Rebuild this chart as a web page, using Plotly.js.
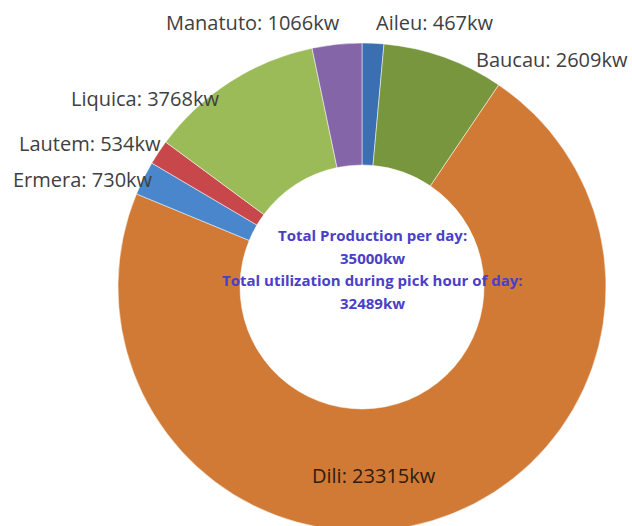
<!DOCTYPE html>
<html>
<head>
<meta charset="utf-8">
<script src="https://cdn.plot.ly/plotly-3.0.1.min.js"></script>
<style>
  html, body { margin: 0; padding: 0; overflow: hidden; background: #fff; }
  #chart { width: 632px; height: 560px; }
</style>
</head>
<body>
<div id="chart"></div>
<script>
const districts = ["Aileu", "Baucau", "Dili", "Ermera", "Lautem", "Liquica", "Manatuto"];
const loadKw = [467, 2609, 23315, 730, 534, 3768, 1066];
const sliceColors = ["#3b6fb2", "#77963d", "#d07a36", "#4a86cc", "#c8474a", "#9bbb59", "#8465a8"];
const centerLines = [
  "Total Production per day:",
  "35000kw",
  "Total utilization during pick hour of day:",
  "32489kw",
];

// label centres, in page pixels
const labelPx = [
  [435, 23],
  [552, 60],
  [374, 475],
  [83, 180],
  [90, 143],
  [145, 98],
  [253, 23],
];
const centerLinePx = [
  [372, 235],
  [372, 258],
  [372, 280],
  [372, 303],
];

const W = 632;
const H = 560;
const toPaper = ([x, y]) => ({ x: x / W, y: (H - y) / H });

const donut = {
  type: "pie",
  labels: districts,
  values: loadKw,
  sort: false,
  direction: "clockwise",
  rotation: 0,
  hole: 0.5,
  textinfo: "none",
  marker: { colors: sliceColors, line: { color: "#ffffff", width: 0.5 } },
  domain: { x: [118 / W, 606 / W], y: [(H - 531) / H, (H - 43) / H] },
  showlegend: false,
  hoverinfo: "label+value",
};

const sliceLabels = districts.map((name, i) => {
  const p = toPaper(labelPx[i]);
  const inside = name === "Dili";
  return {
    xref: "paper",
    yref: "paper",
    x: p.x,
    y: p.y,
    xanchor: "center",
    yanchor: "middle",
    showarrow: false,
    text: `${name}: ${loadKw[i]}kw`,
    font: {
      family: "'Open Sans', Lato, sans-serif",
      size: 20,
      color: inside ? "#2e1c0e" : "#404040",
    },
  };
});

const centerNotes = centerLines.map((line, i) => {
  const p = toPaper(centerLinePx[i]);
  return {
    xref: "paper",
    yref: "paper",
    x: p.x,
    y: p.y,
    xanchor: "center",
    yanchor: "middle",
    showarrow: false,
    text: `<b>${line}</b>`,
    font: { family: "'Open Sans', Lato, sans-serif", size: 15, color: "#4a40c8" },
  };
});

const layout = {
  width: W,
  height: H,
  margin: { l: 0, r: 0, t: 0, b: 0 },
  paper_bgcolor: "#ffffff",
  annotations: [...sliceLabels, ...centerNotes],
};

Plotly.newPlot("chart", [donut], layout, { displayModeBar: false, staticPlot: true });
</script>
</body>
</html>
